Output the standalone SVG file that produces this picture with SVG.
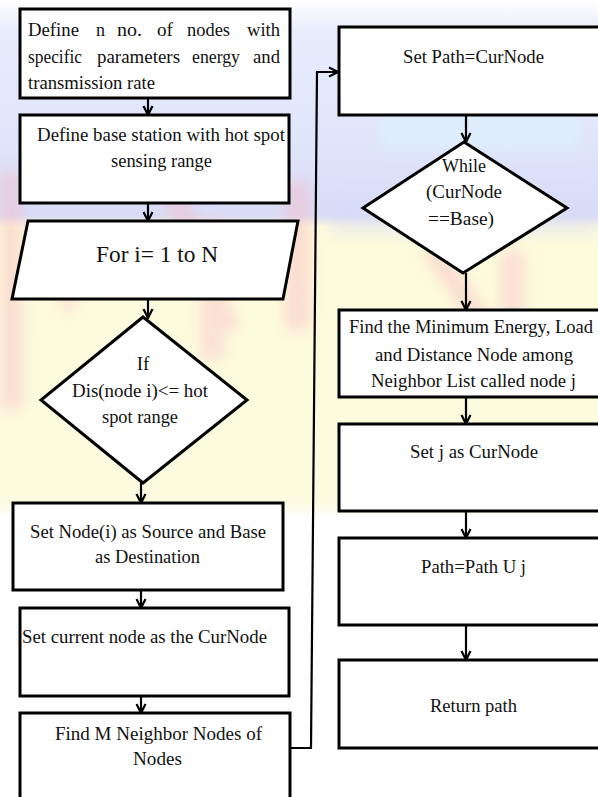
<svg xmlns="http://www.w3.org/2000/svg" width="598" height="797" viewBox="0 0 598 797">
<style>
.box{fill:#fff;stroke:#000;stroke-width:3}
.t{font-family:"Liberation Serif","Times New Roman",serif;font-size:19px;fill:#111}
.c{fill:none;stroke:#000;stroke-width:2.2}
</style>
<defs>
<marker id="arr" markerUnits="userSpaceOnUse" markerWidth="12" markerHeight="12" viewBox="0 0 12 12" refX="11" refY="6" orient="auto">
<path d="M2,1.5 L11,6 L2,10.5" fill="none" stroke="#000" stroke-width="2.2"/>
</marker>
<filter id="blur" x="-20%" y="-20%" width="140%" height="140%"><feGaussianBlur stdDeviation="7"/></filter>
<linearGradient id="bg" x1="0" y1="0" x2="0" y2="1">
<stop offset="0" stop-color="#ffffff"/>
<stop offset="0.04" stop-color="#e8ecfc"/>
<stop offset="0.18" stop-color="#dfe5fb"/>
<stop offset="0.27" stop-color="#d9dcf7"/>
<stop offset="0.285" stop-color="#fdfbdc"/>
<stop offset="0.63" stop-color="#fdfbdf"/>
<stop offset="0.65" stop-color="#ffffff"/>
<stop offset="1" stop-color="#ffffff"/>
</linearGradient>
</defs>
<g id="background">
<rect x="0" y="0" width="598" height="797" fill="url(#bg)"/>
<g filter="url(#blur)" opacity="0.45">
<rect x="380" y="80" width="200" height="70" fill="#dcf7fb"/>
<rect x="330" y="190" width="268" height="45" fill="#d9dcf7"/>
<rect x="0" y="170" width="22" height="240" fill="#f7b9c2"/>
<path d="M60,230 L75,230 L75,310 L60,310 Z" fill="#f7b9c2"/>
<path d="M160,190 L185,190 L240,330 L215,330 Z" fill="#f7b9c2"/>
<path d="M200,220 L225,220 L225,360 L200,360 Z" fill="#f7c2c9"/>
<path d="M285,180 L310,180 L310,330 L285,330 Z" fill="#f7b9c2"/>
<path d="M420,250 L445,250 L500,330 L475,330 Z" fill="#f7b9c2"/>
<path d="M500,250 L525,250 L525,320 L500,320 Z" fill="#f7c2c9"/>
</g>
</g>
<g id="connectors">
<line class="c" x1="148" y1="98" x2="148" y2="115" marker-end="url(#arr)"/>
<line class="c" x1="148" y1="203" x2="148" y2="221" marker-end="url(#arr)"/>
<line class="c" x1="148" y1="299" x2="148" y2="318" marker-end="url(#arr)"/>
<line class="c" x1="141" y1="483" x2="141" y2="503" marker-end="url(#arr)"/>
<line class="c" x1="141" y1="590" x2="141" y2="608" marker-end="url(#arr)"/>
<line class="c" x1="141" y1="696" x2="141" y2="713" marker-end="url(#arr)"/>
<polyline class="c" points="290,748 311,748 317,72 338,72" marker-end="url(#arr)"/>
<line class="c" x1="466" y1="107" x2="466" y2="142" marker-end="url(#arr)"/>
<line class="c" x1="466" y1="273" x2="466" y2="310" marker-end="url(#arr)"/>
<line class="c" x1="466" y1="397" x2="466" y2="424" marker-end="url(#arr)"/>
<line class="c" x1="466" y1="511" x2="466" y2="538" marker-end="url(#arr)"/>
<line class="c" x1="466" y1="625" x2="466" y2="660" marker-end="url(#arr)"/>
</g>
<g id="n1">
<rect class="box" x="20" y="9" width="270" height="89"/>
<text class="t" x="28" y="36" textLength="51" lengthAdjust="spacingAndGlyphs">Define</text>
<text class="t" x="96" y="36" textLength="9" lengthAdjust="spacingAndGlyphs">n</text>
<text class="t" x="117" y="36" textLength="25" lengthAdjust="spacingAndGlyphs">no.</text>
<text class="t" x="157" y="36" textLength="16" lengthAdjust="spacingAndGlyphs">of</text>
<text class="t" x="187" y="36" textLength="43" lengthAdjust="spacingAndGlyphs">nodes</text>
<text class="t" x="247" y="36" textLength="33" lengthAdjust="spacingAndGlyphs">with</text>
<text class="t" x="28" y="63" textLength="54" lengthAdjust="spacingAndGlyphs">specific</text>
<text class="t" x="97" y="63" textLength="83" lengthAdjust="spacingAndGlyphs">parameters</text>
<text class="t" x="192" y="63" textLength="48" lengthAdjust="spacingAndGlyphs">energy</text>
<text class="t" x="253" y="63" textLength="27" lengthAdjust="spacingAndGlyphs">and</text>
<text class="t" x="28" y="89" textLength="127" lengthAdjust="spacingAndGlyphs">transmission rate</text>
</g>
<g id="n2">
<rect class="box" x="20" y="115" width="269" height="88"/>
<text class="t" x="37" y="141" textLength="248" lengthAdjust="spacingAndGlyphs">Define base station with hot spot</text>
<text class="t" x="111" y="167" textLength="101" lengthAdjust="spacingAndGlyphs">sensing range</text>
</g>
<g id="n3">
<polygon class="box" points="28,221 298,221 283,299 12,299"/>
<text class="t" x="96" y="262" style="font-size:24px" textLength="122" lengthAdjust="spacingAndGlyphs">For i= 1 to N</text>
</g>
<g id="n4">
<polygon class="box" points="143,317 247,400 143,483 41,400"/>
<text class="t" x="143" y="370" text-anchor="middle">If</text>
<text class="t" x="72" y="397" textLength="136" lengthAdjust="spacingAndGlyphs">Dis(node i)&lt;= hot</text>
<text class="t" x="102" y="423" textLength="76" lengthAdjust="spacingAndGlyphs">spot range</text>
</g>
<g id="n5">
<rect class="box" x="13" y="503" width="270" height="87"/>
<text class="t" x="30" y="538" textLength="236" lengthAdjust="spacingAndGlyphs">Set Node(i) as Source and Base</text>
<text class="t" x="95" y="563" textLength="105" lengthAdjust="spacingAndGlyphs">as Destination</text>
</g>
<g id="n6">
<rect class="box" x="20" y="608" width="269" height="88"/>
<text class="t" x="22" y="643" textLength="245" lengthAdjust="spacingAndGlyphs">Set current node as the CurNode</text>
</g>
<g id="n7">
<rect class="box" x="20" y="713" width="270" height="100"/>
<text class="t" x="55" y="740" textLength="207" lengthAdjust="spacingAndGlyphs">Find M Neighbor Nodes of</text>
<text class="t" x="133" y="765" textLength="49" lengthAdjust="spacingAndGlyphs">Nodes</text>
</g>
<g id="n8">
<rect class="box" x="339" y="27" width="275" height="88"/>
<text class="t" x="403" y="63" textLength="141" lengthAdjust="spacingAndGlyphs">Set Path=CurNode</text>
</g>
<g id="n9">
<polygon class="box" points="464,142 567,208 463,273 363,208"/>
<text class="t" x="442" y="172" textLength="44" lengthAdjust="spacingAndGlyphs">While</text>
<text class="t" x="426" y="198" textLength="76" lengthAdjust="spacingAndGlyphs">(CurNode</text>
<text class="t" x="428" y="225" textLength="66" lengthAdjust="spacingAndGlyphs">==Base)</text>
</g>
<g id="n10">
<rect class="box" x="339" y="310" width="275" height="87"/>
<text class="t" x="349" y="333" textLength="244" lengthAdjust="spacingAndGlyphs">Find the Minimum Energy, Load</text>
<text class="t" x="375" y="361" textLength="198" lengthAdjust="spacingAndGlyphs">and Distance Node among</text>
<text class="t" x="371" y="387" textLength="205" lengthAdjust="spacingAndGlyphs">Neighbor List called node j</text>
</g>
<g id="n11">
<rect class="box" x="339" y="424" width="275" height="87"/>
<text class="t" x="410" y="458" textLength="128" lengthAdjust="spacingAndGlyphs">Set j as CurNode</text>
</g>
<g id="n12">
<rect class="box" x="339" y="538" width="275" height="87"/>
<text class="t" x="421" y="573" textLength="105" lengthAdjust="spacingAndGlyphs">Path=Path U j</text>
</g>
<g id="n13">
<rect class="box" x="339" y="660" width="275" height="88"/>
<text class="t" x="430" y="712" textLength="87" lengthAdjust="spacingAndGlyphs">Return path</text>
</g>
</svg>
